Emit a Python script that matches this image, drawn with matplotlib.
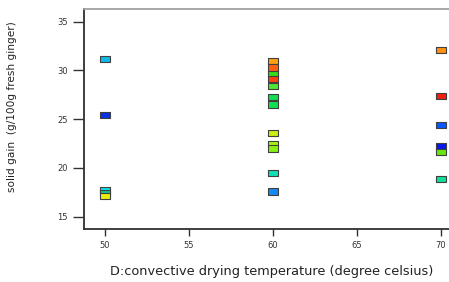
import matplotlib
matplotlib.use("Agg")
import matplotlib.pyplot as plt

temps = [50, 50, 50, 50, 50,
         60, 60, 60, 60, 60, 60, 60, 60, 60, 60, 60, 60,
         70, 70, 70, 70, 70, 70]
solid_gain = [31.2, 25.4, 17.7, 17.4, 17.1,
              31.0, 30.3, 29.6, 29.1, 28.4, 27.3, 26.5, 23.6, 22.5, 22.0, 19.5, 17.6,
              32.1, 27.4, 24.4, 22.2, 21.6, 18.9]
point_colors = ["#10B8E8", "#0830E8", "#10E0E8", "#10C890", "#E8F010",
                "#FFA010", "#FF6010", "#30E010", "#FF4010", "#50E830", "#10E050", "#10E050",
                "#C8F010", "#A8F010", "#88F010", "#10E0B8", "#1888F0",
                "#FF9010", "#F02010", "#0858FF", "#0818E8", "#68E810", "#10E098"]
x_ticks = [50, 55, 60, 65, 70]
y_ticks = [15, 20, 25, 30, 35]

W, H = 449, 282
fig = plt.figure(figsize=(W / 100, H / 100), dpi=100)
ax = fig.add_axes([84 / W, 1 - 229 / H, (462 - 84) / W, 220 / H])

rect = [(-1, -0.6), (1, -0.6), (1, 0.6), (-1, 0.6), (-1, -0.6)]
ax.scatter(temps, solid_gain, c=point_colors, marker=rect, s=55,
           edgecolors="#404040", linewidths=0.8, zorder=3)

ax.set_xlim(48.75, 48.75 + (462 - 84) / 16.8)
ax.set_ylim(13.75, 36.29)
ax.set_xticks(x_ticks)
ax.set_yticks(y_ticks)
ax.tick_params(axis="both", direction="out", labelsize=6, colors="#333333",
               width=1.0, length=5)
ax.tick_params(axis="y", length=8)
for s in ["left", "bottom"]:
    ax.spines[s].set_color("#303030")
    ax.spines[s].set_linewidth(1.3)
ax.spines["top"].set_color("#a0a0a0")
ax.spines["top"].set_linewidth(1.3)
ax.spines["right"].set_visible(False)

fig.text(12 / W, 1 - 107 / H, "solid gain  (g/100g fresh ginger)", rotation=90,
         ha="center", va="center", fontsize=7.6, family="DejaVu Sans", color="#222222")
fig.text(272 / W, 1 - 271 / H, "D:convective drying temperature (degree celsius)",
         ha="center", va="center", fontsize=9.3, family="DejaVu Sans", color="#222222")

fig.savefig("out.png", dpi=100)
